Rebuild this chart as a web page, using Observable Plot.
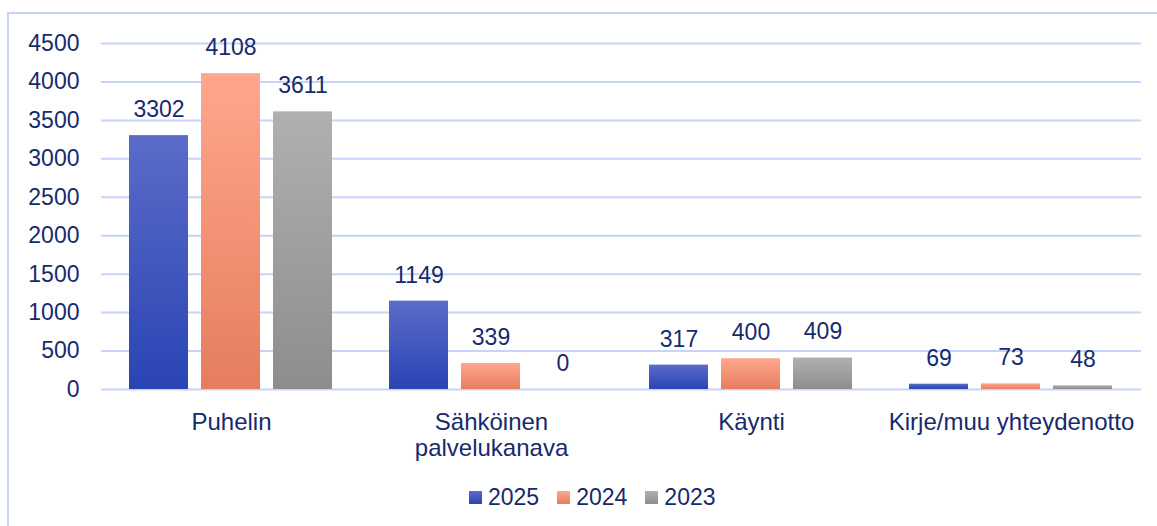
<!DOCTYPE html>
<html>
<head>
<meta charset="utf-8">
<script src="https://cdn.jsdelivr.net/npm/d3@7"></script>
<script src="https://cdn.jsdelivr.net/npm/@observablehq/plot@0.6"></script>
<style>
  html, body { margin: 0; padding: 0; background: #fff; overflow: hidden; width: 1157px; height: 526px; }
  #frame { position: absolute; left: 7px; top: 12px; width: 1200px; height: 600px; border: 2px solid #c9d3f5; box-sizing: border-box; }
  #chart { position: absolute; left: 0; top: 0; }
  #legend { position: absolute; left: 469px; top: 484px; display: flex; align-items: center; font-family: "Liberation Sans", Arial, sans-serif; font-size: 23px; color: #172a6e; }
  .item { display: flex; align-items: center; margin-right: 18px; }
  .sw { width: 13px; height: 13px; margin-right: 6px; }
</style>
</head>
<body>
<div id="frame"></div>
<div id="chart"></div>
<div id="legend"></div>
<script>
const categories = ["Puhelin", "Sähköinen palvelukanava", "Käynti", "Kirje/muu yhteydenotto"];
const categoryLabels = ["Puhelin", "Sähköinen\npalvelukanava", "Käynti", "Kirje/muu yhteydenotto"];
const years = ["2025", "2024", "2023"];
const values2025 = [3302, 1149, 317, 69];
const values2024 = [4108, 339, 400, 73];
const values2023 = [3611, 0, 409, 48];
const yTicks = [0, 500, 1000, 1500, 2000, 2500, 3000, 3500, 4000, 4500];

const gradients = {
  "2025": ["#5b6cc8", "#2a44b5"],
  "2024": ["#fea78d", "#e67d5f"],
  "2023": ["#b0b0b0", "#8e8d8d"]
};

const seriesValues = {"2025": values2025, "2024": values2024, "2023": values2023};
const data = [];
categories.forEach((c, i) => {
  years.forEach(y => data.push({cat: c, year: y, value: seriesValues[y][i]}));
});

const textColor = "#172a6e";
const font = "Liberation Sans, Arial, sans-serif";

const chart = Plot.plot({
  width: 1157,
  height: 470,
  marginLeft: 100,
  marginRight: 16,
  marginTop: 43,
  marginBottom: 81,
  style: {fontFamily: font, fontSize: "23px", color: textColor, background: "transparent", overflow: "visible"},
  fx: {domain: categories, padding: 0, label: null},
  x: {domain: years, paddingInner: 0.18, paddingOuter: 0.395, axis: null},
  y: {domain: [0, 4500], axis: null},
  marks: [
    Plot.ruleY(yTicks, {stroke: "#c9d2f7", strokeWidth: 2}),
    ...years.map(yr => Plot.barY(data.filter(d => d.year === yr), {
      fx: "cat", x: "year", y: "value", fill: `url(#grad${yr})`
    })),
    Plot.text(data, {
      fx: "cat", x: "year", y: "value", text: d => String(d.value),
      dy: -26, fill: textColor, fontSize: 23, lineAnchor: "middle"
    }),
    Plot.axisY(yTicks, {
      facetAnchor: "left", tickSize: 0, tickPadding: 22, tickFormat: d => String(d),
      label: null, fontSize: 23, fill: textColor
    }),
    Plot.axisFx({
      anchor: "bottom", tickSize: 0, tickPadding: 23, label: null, fontSize: 24, fill: textColor,
      lineHeight: 1.05,
      tickFormat: c => categoryLabels[categories.indexOf(c)]
    })
  ]
});

// gradient definitions
const ns = "http://www.w3.org/2000/svg";
const defs = document.createElementNS(ns, "defs");
for (const yr of years) {
  const lg = document.createElementNS(ns, "linearGradient");
  lg.setAttribute("id", "grad" + yr);
  lg.setAttribute("x1", "0"); lg.setAttribute("y1", "0");
  lg.setAttribute("x2", "0"); lg.setAttribute("y2", "1");
  const [c0, c1] = gradients[yr];
  for (const [off, col] of [["0", c0], ["1", c1]]) {
    const st = document.createElementNS(ns, "stop");
    st.setAttribute("offset", off);
    st.setAttribute("stop-color", col);
    lg.appendChild(st);
  }
  defs.appendChild(lg);
}
chart.insertBefore(defs, chart.firstChild);
document.getElementById("chart").appendChild(chart);

// legend
const legend = document.getElementById("legend");
for (const yr of years) {
  const item = document.createElement("div");
  item.className = "item";
  const sw = document.createElement("div");
  sw.className = "sw";
  sw.style.background = `linear-gradient(${gradients[yr][0]}, ${gradients[yr][1]})`;
  const label = document.createElement("span");
  label.textContent = yr;
  item.appendChild(sw);
  item.appendChild(label);
  legend.appendChild(item);
}
</script>
</body>
</html>
